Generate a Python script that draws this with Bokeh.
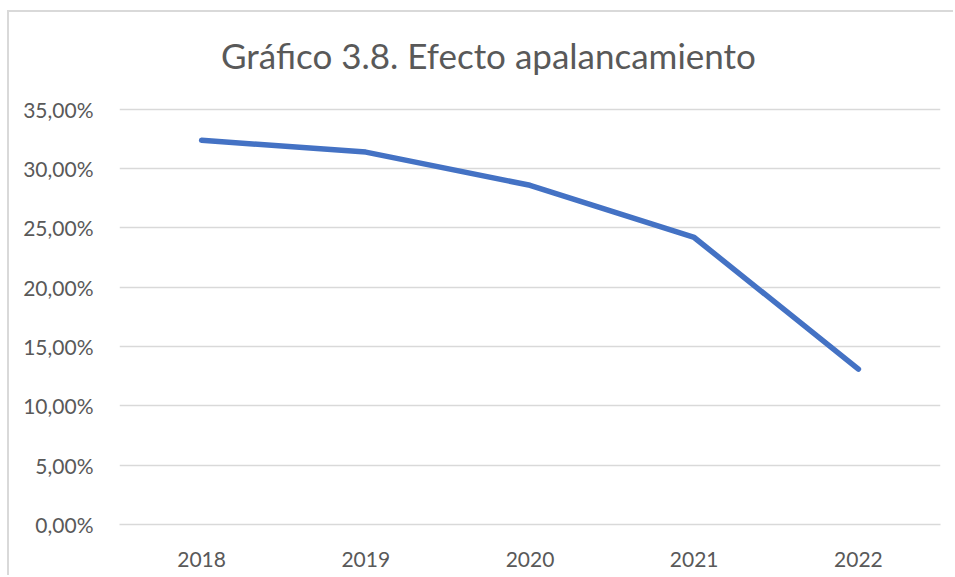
from bokeh.plotting import figure
from bokeh.embed import file_html
from bokeh.resources import INLINE
from bokeh.models import FixedTicker, CustomJSTickFormatter, Label

years = ["2018", "2019", "2020", "2021", "2022"]
efecto = [32.4, 31.4, 28.6, 24.2, 13.1]
y_ticks = [0, 5, 10, 15, 20, 25, 30, 35]
y_tick_labels = ["0,00%", "5,00%", "10,00%", "15,00%", "20,00%", "25,00%", "30,00%", "35,00%"]
title_text = "Gráfico 3.8. Efecto apalancamiento"

# y range extends above 35% so the title sits inside the frame; ticks/grid stop at 35%
p = figure(x_range=years, y_range=(0, 43.17), width=946, height=565,
           output_backend="svg", toolbar_location=None,
           min_border_left=110, min_border_right=15, min_border_top=0, min_border_bottom=53)
p.styles = {"margin-left": "7px", "margin-top": "10px",
            "border-top": "2px solid #d9d9d9", "border-left": "2px solid #d9d9d9"}

title = Label(x=2.247, y=39.6, text=title_text, text_align="center",
              text_baseline="alphabetic", text_font="Lato", text_font_size="35px",
              text_color="#595959")
p.add_layout(title)

p.line(years, efecto, line_color="#4472C4", line_width=5.5, line_cap="round", line_join="round")

p.yaxis.ticker = FixedTicker(ticks=y_ticks)
p.yaxis.formatter = CustomJSTickFormatter(args=dict(labels=y_tick_labels, yt=y_ticks),
                                          code="return labels[yt.indexOf(tick)];")
for ax in (p.xaxis, p.yaxis):
    ax.major_tick_line_color = None
    ax.minor_tick_line_color = None
    ax.major_label_text_font = "Lato"
    ax.major_label_text_font_size = "21px"
    ax.major_label_text_color = "#595959"
p.yaxis.axis_line_color = None
p.xaxis.axis_line_color = "#d9d9d9"
p.xaxis.axis_line_width = 1.5
p.yaxis.major_label_standoff = 20
p.xaxis.major_label_standoff = 21
p.xgrid.grid_line_color = None
p.ygrid.grid_line_color = "#d9d9d9"
p.ygrid.grid_line_width = 1.5
p.outline_line_color = None
p.x_range.range_padding = 0

open("out.html", "w").write(file_html(p, INLINE))
